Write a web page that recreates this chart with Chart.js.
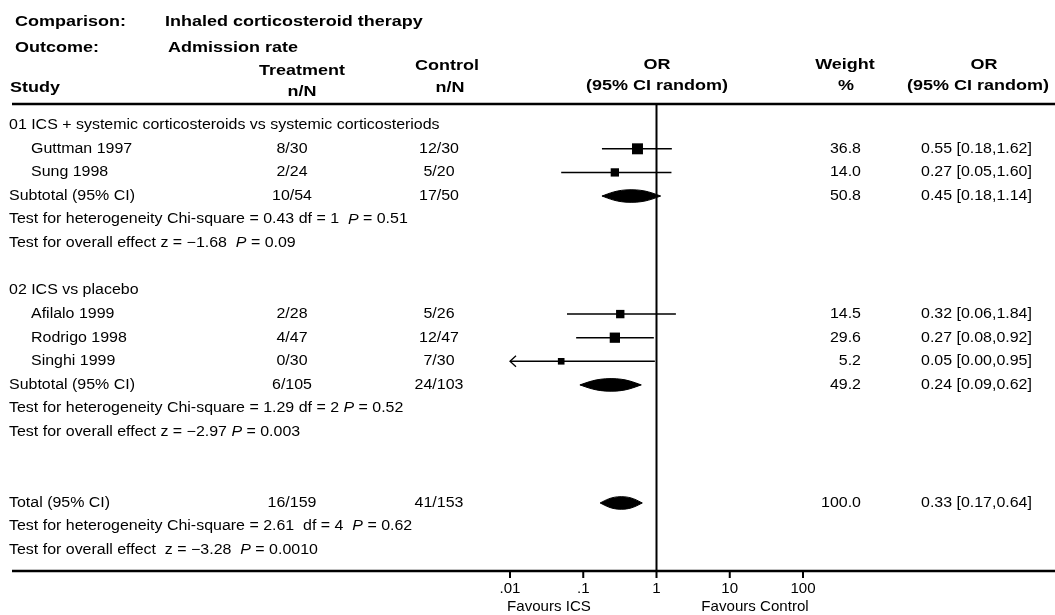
<!DOCTYPE html>
<html>
<head>
<meta charset="utf-8">
<script src="https://cdn.jsdelivr.net/npm/chart.js@4.4.1/dist/chart.umd.min.js"></script>
<style>
  html, body { margin: 0; padding: 0; background: #fff; }
  #wrap { width: 1055px; height: 615px; }
</style>
</head>
<body>
<div id="wrap"><canvas id="forest" width="1055" height="615"></canvas></div>
<script>
// Dane badań (OR, 95% CI, waga)
const studyNames = ['Guttman 1997', 'Sung 1998', 'Afilalo 1999', 'Rodrigo 1998', 'Singhi 1999'];
const studyTreatment = ['8/30', '2/24', '2/28', '4/47', '0/30'];
const studyControl = ['12/30', '5/20', '5/26', '12/47', '7/30'];
const studyOR = [0.55, 0.27, 0.32, 0.27, 0.05];
const studyLow = [0.18, 0.05, 0.06, 0.08, 0.003];
const studyHigh = [1.62, 1.60, 1.84, 0.92, 0.95];
const studyWeight = [36.8, 14.0, 14.5, 29.6, 5.2];
const studyRow = [1, 2, 8, 9, 10];

// Podsumowania (diamenty)
const pooledLabels = ['Subtotal (95% CI)', 'Subtotal (95% CI)', 'Total (95% CI)'];
const pooledTreatment = ['10/54', '6/105', '16/159'];
const pooledControl = ['17/50', '24/103', '41/153'];
const pooledOR = [0.45, 0.24, 0.33];
const pooledLow = [0.18, 0.09, 0.17];
const pooledHigh = [1.14, 0.62, 0.64];
const pooledWeight = [50.8, 49.2, 100.0];
const pooledRow = [3, 11, 16];

// Nagłówki grup i testy (*P* = kursywa)
const groupTitles = ['01 ICS + systemic corticosteroids vs systemic corticosteriods', '02 ICS vs placebo'];
const groupRow = [0, 7];
const testLines = [
  'Test for heterogeneity Chi-square = 0.43 df = 1  *P* = 0.51',
  'Test for overall effect z = \u22121.68  *P* = 0.09',
  'Test for heterogeneity Chi-square = 1.29 df = 2 *P* = 0.52',
  'Test for overall effect z = \u22122.97 *P* = 0.003',
  'Test for heterogeneity Chi-square = 2.61  df = 4  *P* = 0.62',
  'Test for overall effect  z = \u22123.28  *P* = 0.0010'
];
const testRow = [4, 5, 12, 13, 17, 18];

// Oś X
const tickValues = [0.01, 0.1, 1, 10, 100];
const tickLabels = ['.01', '.1', '1', '10', '100'];
const favourLabels = ['Favours ICS', 'Favours Control'];

const FONT = '"Liberation Sans", Arial, Helvetica, sans-serif';
const X_MIN = 0.01, X_MAX = 100;
const Y_MIN = -0.898, Y_MAX = 18.882;

function drawText(ctx, str, x, y, size, opts = {}) {
  const sx = opts.sx || 1.14;
  const weight = opts.bold ? 'bold ' : '';
  const parts = String(str).split('*');
  const fontFor = (i) => (i % 2 ? 'italic ' : '') + weight + size + 'px ' + FONT;
  const widths = parts.map((p, i) => { ctx.font = fontFor(i); return ctx.measureText(p).width; });
  const total = widths.reduce((a, b) => a + b, 0) * sx;
  let start = x;
  if (opts.align === 'center') start = x - total / 2;
  if (opts.align === 'right') start = x - total;
  ctx.save();
  ctx.translate(start, y);
  ctx.scale(sx, 1);
  ctx.fillStyle = '#000';
  ctx.textBaseline = 'middle';
  ctx.textAlign = 'left';
  let off = 0;
  parts.forEach((p, i) => {
    ctx.font = fontFor(i);
    ctx.fillText(p, off, 0);
    off += widths[i];
  });
  ctx.restore();
}

function orText(or, lo, hi) {
  return `${or.toFixed(2)} [${lo.toFixed(2)},${hi.toFixed(2)}]`;
}

// Rysowanie tekstu, diamentów, osi
const forestDecor = {
  id: 'forestDecor',
  afterDatasetsDraw(chart) {
    const ctx = chart.ctx;
    const xs = chart.scales.x, ys = chart.scales.y;
    const area = chart.chartArea;
    ctx.save();
    ctx.fillStyle = '#000';
    ctx.strokeStyle = '#000';

    // diamenty
    pooledOR.forEach((or, i) => {
      const y = ys.getPixelForValue(pooledRow[i]);
      const xl = xs.getPixelForValue(pooledLow[i]);
      const xm = xs.getPixelForValue(or);
      const xh = xs.getPixelForValue(pooledHigh[i]);
      const h = 6.3, dl = xm - xl, dh = xh - xm;
      ctx.beginPath();
      ctx.moveTo(xl, y);
      ctx.bezierCurveTo(xl + 0.25 * dl, y - 0.4 * h, xm - 0.5 * dl, y - h, xm, y - h);
      ctx.bezierCurveTo(xm + 0.5 * dh, y - h, xh - 0.25 * dh, y - 0.4 * h, xh, y);
      ctx.bezierCurveTo(xh - 0.25 * dh, y + 0.4 * h, xm + 0.5 * dh, y + h, xm, y + h);
      ctx.bezierCurveTo(xm - 0.5 * dl, y + h, xl + 0.25 * dl, y + 0.4 * h, xl, y);
      ctx.fill();
      ctx.lineWidth = 1;
      ctx.stroke();
    });

    // strzałka dla CI poza zakresem
    studyLow.forEach((lo, i) => {
      if (lo >= X_MIN) return;
      const y = ys.getPixelForValue(studyRow[i]);
      const x0 = area.left;
      ctx.beginPath();
      ctx.lineWidth = 1.3;
      ctx.moveTo(x0 + 6, y - 5.5);
      ctx.lineTo(x0, y);
      ctx.lineTo(x0 + 6, y + 5.5);
      ctx.stroke();
    });

    // linie poziome
    ctx.fillRect(12, area.top - 1.25, 1043, 2.5);
    ctx.fillRect(12, area.bottom - 1.25, 1043, 2.5);

    // podziałka
    tickValues.forEach((v, i) => {
      const px = xs.getPixelForValue(v);
      ctx.fillRect(px - 1, area.bottom + 1, 2, 6);
      drawText(ctx, tickLabels[i], px, 589, 14.5, { align: 'center', sx: 1.04 });
    });
    drawText(ctx, favourLabels[0], 549, 607, 14.5, { align: 'center', sx: 1.04 });
    drawText(ctx, favourLabels[1], 755, 607, 14.5, { align: 'center', sx: 1.04 });

    // nagłówek
    const H = 15.5, hb = { bold: true, sx: 1.16 };
    drawText(ctx, 'Comparison:', 15, 22, H, hb);
    drawText(ctx, 'Inhaled corticosteroid therapy', 165, 22, H, hb);
    drawText(ctx, 'Outcome:', 15, 48, H, hb);
    drawText(ctx, 'Admission rate', 168, 48, H, hb);
    drawText(ctx, 'Treatment', 302, 71, H, { ...hb, align: 'center' });
    drawText(ctx, 'n/N', 302, 92, H, { ...hb, align: 'center' });
    drawText(ctx, 'Control', 447, 66, H, { ...hb, align: 'center' });
    drawText(ctx, 'n/N', 450, 88, H, { ...hb, align: 'center' });
    drawText(ctx, 'Study', 10, 88, H, hb);
    drawText(ctx, 'OR', 657, 65, H, { ...hb, align: 'center' });
    drawText(ctx, '(95% CI random)', 657, 86, H, { ...hb, align: 'center' });
    drawText(ctx, 'Weight', 845, 65, H, { ...hb, align: 'center' });
    drawText(ctx, '%', 846, 86, H, { ...hb, align: 'center' });
    drawText(ctx, 'OR', 984, 65, H, { ...hb, align: 'center' });
    drawText(ctx, '(95% CI random)', 978, 86, H, { ...hb, align: 'center' });

    // wiersze
    const B = 14;
    groupTitles.forEach((t, i) => drawText(ctx, t, 9, ys.getPixelForValue(groupRow[i]), B));
    testLines.forEach((t, i) => drawText(ctx, t, 9, ys.getPixelForValue(testRow[i]), B));
    studyNames.forEach((name, i) => {
      const y = ys.getPixelForValue(studyRow[i]);
      drawText(ctx, name, 31, y, B);
      drawText(ctx, studyTreatment[i], 292, y, B, { align: 'center' });
      drawText(ctx, studyControl[i], 439, y, B, { align: 'center' });
      drawText(ctx, studyWeight[i].toFixed(1), 861, y, B, { align: 'right' });
      drawText(ctx, orText(studyOR[i], studyLow[i], studyHigh[i]), 921, y, B);
    });
    pooledLabels.forEach((label, i) => {
      const y = ys.getPixelForValue(pooledRow[i]);
      drawText(ctx, label, 9, y, B);
      drawText(ctx, pooledTreatment[i], 292, y, B, { align: 'center' });
      drawText(ctx, pooledControl[i], 439, y, B, { align: 'center' });
      drawText(ctx, pooledWeight[i].toFixed(1), 861, y, B, { align: 'right' });
      drawText(ctx, orText(pooledOR[i], pooledLow[i], pooledHigh[i]), 921, y, B);
    });
    ctx.restore();
  }
};

// Zbiory danych
const ciSets = studyOR.map((or, i) => ({
  data: [
    { x: Math.max(studyLow[i], X_MIN), y: studyRow[i] },
    { x: studyHigh[i], y: studyRow[i] }
  ],
  showLine: true,
  borderColor: '#000',
  borderWidth: 1.5,
  pointRadius: 0
}));

const markerSet = {
  data: studyOR.map((or, i) => ({ x: or, y: studyRow[i] })),
  pointStyle: 'rect',
  pointRadius: studyWeight.map((w) => (4 + 1.15 * Math.sqrt(w)) / Math.SQRT2),
  backgroundColor: '#000',
  borderColor: '#000',
  borderWidth: 0
};

const noEffectLine = {
  data: [{ x: 1, y: Y_MIN }, { x: 1, y: Y_MAX }],
  showLine: true,
  borderColor: '#000',
  borderWidth: 2,
  pointRadius: 0
};

new Chart(document.getElementById('forest'), {
  type: 'scatter',
  data: { datasets: [noEffectLine, ...ciSets, markerSet] },
  options: {
    responsive: false,
    animation: false,
    devicePixelRatio: 1,
    events: [],
    layout: { padding: { left: 510, right: 252, top: 104, bottom: 44 } },
    plugins: { legend: { display: false }, tooltip: { enabled: false } },
    scales: {
      x: { type: 'logarithmic', min: X_MIN, max: X_MAX, display: false },
      y: { type: 'linear', min: Y_MIN, max: Y_MAX, reverse: true, display: false }
    }
  },
  plugins: [forestDecor]
});
</script>
</body>
</html>
